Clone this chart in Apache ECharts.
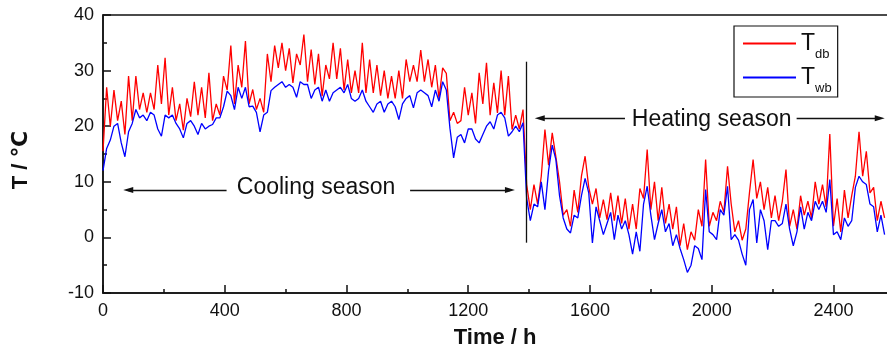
<!DOCTYPE html>
<html><head><meta charset="utf-8">
<script src="https://cdn.jsdelivr.net/npm/echarts@6/dist/echarts.min.js"></script>
<style>html,body{margin:0;padding:0;background:#fff}#c{width:887px;height:356px}</style>
</head><body><div id="c"></div>
<script>
const STEP_H = 12;
const COOLING_START_H = 0;
const HEATING_START_H = 1392;

// Dry-bulb temperature, cooling season (h 0 .. 1380)
const tdbCooling = [
  15.5, 27, 20, 26.5, 21, 24.5, 18.5, 29, 21, 29,
  23, 26, 22.5, 26, 23, 31, 24, 32.3, 22, 27,
  21, 24, 19.3, 25, 21.7, 28, 22, 27, 21.5, 29.6,
  21, 24, 22, 29, 26.5, 34.5, 24, 31, 27, 35.3,
  24, 26.6, 23, 25, 22.5, 33, 28, 34.5, 30.5, 35,
  30, 34, 27.8, 33, 31, 36.5, 28, 33.8, 27.5, 33,
  25.4, 31, 28.5, 35, 28.5, 34, 26.5, 32, 26, 30,
  26, 35, 26, 32, 26, 31, 25.5, 30, 25, 29,
  25, 30, 25, 32, 28, 31, 28, 33.7, 28, 32,
  27, 31, 25, 30.5, 29.5, 21, 22.5, 20.5, 21, 27,
  22, 26, 20.5, 29.6, 24, 31.4, 22, 27.8, 22.4, 30,
  22, 29, 19.4, 22, 19.5, 23
];
// Wet-bulb temperature, cooling season
const twbCooling = [
  12, 16, 17.5, 20, 20.5, 17, 14.5, 19, 20.5, 23,
  21.5, 22, 21, 22.5, 22, 19.5, 18.2, 22, 21.5, 22,
  20.5, 19.5, 17.9, 20.5, 21, 20, 18.5, 20.5, 19.5, 20,
  20.3, 21.5, 21.5, 23.5, 26.3, 25.5, 23, 27, 25, 27,
  23.5, 23.6, 22.5, 19, 22, 22.5, 26.4, 27, 27.5, 28,
  27, 27.5, 27, 25.2, 28, 27.5, 27.5, 25, 26.5, 27,
  24.5, 26.5, 24.5, 26, 26.5, 27, 26, 27.5, 25, 24.5,
  25, 26.5, 24.5, 23.5, 22.5, 24, 24.5, 22.5, 24, 24.5,
  23.5, 21.2, 24, 25, 25.5, 23.3, 26, 26.5, 26, 25.5,
  23.5, 26.5, 24.5, 28, 26.5, 19.6, 14.3, 18, 18.5, 17,
  19.5, 19.5, 17.7, 17, 18.5, 20, 20.8, 19.5, 22, 22.5,
  21.5, 18.2, 19, 20, 19, 20.6
];
// Dry-bulb temperature, heating season (h 1392 .. 2568)
const tdbHeating = [
  9.5, 5, 9.5, 6, 11, 19.4, 13, 18.8, 14.5, 10,
  4, 5, 2, 8.5, 4.5, 11, 14.6, 9, 6, 8.8,
  3.5, 6.8, 3.2, 8, 3, 7.5, 2.5, 7, 1.5, 6,
  1.5, 8.8, 7, 15.8, 5, 10, 3, 9, 2.5, 6,
  1.5, 5.5, -1.5, 2.5, -2.2, 1, -0.5, 5, 2, 14,
  2, 4.5, 3, 6.5, 4.5, 12.8, 6, 1, 3, -0.5,
  1.5, 8, 14, 7, 10, 5, 9, 3.5, 7.5, 3,
  6.5, 12.2, 2, 5, 1.5, 7.5, 4, 6.5, 3.5, 10,
  6, 9.5, 5.5, 18.6, 2, 7, 1, 8.5, 3.5, 7.5,
  11, 19, 11, 15.5, 8, 9, 3, 6.5, 3.5
];
// Wet-bulb temperature, heating season
const twbHeating = [
  7, 3, 6, 5.5, 10, 5, 12, 16.6, 14, 7.5,
  3.5, 1.5, 0.8, 4, 3.5, 7.5, 10.6, 8, -1, 5.5,
  3, 0.5, 2.5, 4.5, -0.4, 4, 1.5, 3, 0.5, -3,
  1, -2.5, 6, 9.2, 4, -0.4, 2.5, 5, 1, 2.5,
  -1.5, 0.5, -2, -4, -6.3, -5, -1.5, -2, -4, 8.6,
  1, 0.5, -0.4, 5, 4, 9.2, -0.4, 0.5, -0.5, -3,
  -5, 5, 6.8, -1, 5, 3, -2.2, 3, 3, 2,
  2.5, 6, 1.5, -1.5, 1, 5.5, 1.5, 4.5, 3, 6.5,
  5, 6.5, 4.5, 10.4, 0.5, 1, -0.4, 3.5, 2, 3,
  9, 11, 10, 9.5, 6, 5.5, 1, 4, 0.5
];

const seriesNames = ['Tdb', 'Twb'];
const seriesColors = ['#ff0000', '#0000ff'];
const xRange = [0, 2800];      // axis runs past the cropped right edge
const yRange = [-10, 40];
const xInterval = 400;
const yInterval = 10;

// annotation positions in data units [h, T]
const coolingText = ['Cooling season', 700, 8.94];
const heatingText = ['Heating season', 2000, 21.26];
const coolingArrowL = [[406, 8.53], [83, 8.53]];
const coolingArrowR = [[1009, 8.53], [1337, 8.53]];
const heatingArrowL = [[1715, 21.42], [1435, 21.42]];
const heatingArrowR = [[2279, 21.42], [2552, 21.42]];
const seasonDivider = [[1392, 31.6], [1392, -0.95]];

function toPoints(startH, values) {
  return values.map((v, i) => [startH + i * STEP_H, v]);
}
const tdbData = toPoints(COOLING_START_H, tdbCooling).concat(toPoints(HEATING_START_H, tdbHeating));
const twbData = toPoints(COOLING_START_H, twbCooling).concat(toPoints(HEATING_START_H, twbHeating));

const FONT = "'Liberation Sans', Arial, 'DejaVu Sans', sans-serif";
const INK = '#111';
const axisLineStyle = { color: INK, width: 1.5 };

function arrow(seg) {
  return [{ coord: seg[0], symbol: 'none' }, { coord: seg[1], symbol: 'triangle' }];
}

const chart = echarts.init(document.getElementById('c'), null, { renderer: 'canvas' });
chart.setOption({
  animation: false,
  backgroundColor: '#fff',
  grid: {
    left: 103, top: 15, width: 852.2, height: 278,
    outerBoundsMode: 'none', containLabel: false,
    show: true, borderColor: INK, borderWidth: 1.5, backgroundColor: 'transparent'
  },
  legend: {
    data: seriesNames,
    orient: 'vertical',
    left: 734, top: 26,
    itemWidth: 53, itemHeight: 2, icon: 'rect',
    itemGap: -1,
    padding: [0, 6, 2, 9],
    borderColor: INK, borderWidth: 1.2,
    selectedMode: false,
    formatter: function (name) { return '{t|T}{s|' + name.slice(1) + '}'; },
    textStyle: {
      rich: {
        t: { fontSize: 23, fontFamily: FONT, color: INK, lineHeight: 26 },
        s: { fontSize: 13, fontFamily: FONT, color: INK, lineHeight: 14, padding: [22, 0, 0, 0] }
      }
    }
  },
  xAxis: {
    type: 'value', min: xRange[0], max: xRange[1], interval: xInterval,
    name: 'Time / h', nameLocation: 'middle', nameGap: 34,
    nameTextStyle: { fontSize: 22, fontWeight: 'bold', color: INK, fontFamily: FONT, padding: [0, 68, 0, 0] },
    axisLine: { show: true, onZero: false, lineStyle: axisLineStyle },
    axisTick: { show: true, inside: true, length: 8, lineStyle: axisLineStyle },
    minorTick: { show: true, splitNumber: 2, length: 4, lineStyle: axisLineStyle },
    axisLabel: { color: INK, fontSize: 18, fontFamily: FONT, margin: 9, formatter: function (v) { return String(v); } },
    splitLine: { show: false }, minorSplitLine: { show: false }
  },
  yAxis: {
    type: 'value', min: yRange[0], max: yRange[1], interval: yInterval,
    name: 'T / ℃', nameLocation: 'middle', nameGap: 71,
    nameTextStyle: { fontSize: 22, fontWeight: 'bold', color: INK, fontFamily: FONT, padding: [0, 12, 0, 0] },
    axisLine: { show: true, onZero: false, lineStyle: axisLineStyle },
    axisTick: { show: true, inside: true, length: 8, lineStyle: axisLineStyle },
    minorTick: { show: true, splitNumber: 2, length: 4, lineStyle: axisLineStyle },
    axisLabel: { color: INK, fontSize: 18, fontFamily: FONT, margin: 9, formatter: function (v) { return String(v); } },
    splitLine: { show: false }, minorSplitLine: { show: false }
  },
  series: [
    {
      name: seriesNames[0], type: 'line', data: tdbData, showSymbol: false, symbol: 'none',
      lineStyle: { color: seriesColors[0], width: 1.3 }, itemStyle: { color: seriesColors[0] }, z: 2
    },
    {
      name: seriesNames[1], type: 'line', data: twbData, showSymbol: false, symbol: 'none',
      lineStyle: { color: seriesColors[1], width: 1.3 }, itemStyle: { color: seriesColors[1] }, z: 3
    },
    {
      name: 'annotations', type: 'line', data: [], silent: true, z: 4,
      markLine: {
        silent: true, animation: false,
        symbolSize: [6, 10],
        lineStyle: { color: INK, width: 1.3, type: 'solid' },
        label: { show: false },
        emphasis: { disabled: true },
        data: [
          arrow(coolingArrowL), arrow(coolingArrowR),
          arrow(heatingArrowL), arrow(heatingArrowR),
          [{ coord: seasonDivider[0], symbol: 'none' }, { coord: seasonDivider[1], symbol: 'none' }]
        ]
      },
      markPoint: {
        silent: true, animation: false,
        symbol: 'circle', symbolSize: 0,
        itemStyle: { color: 'transparent' },
        label: { show: true, position: 'inside', formatter: '{b}', color: INK, fontSize: 23, fontFamily: FONT },
        data: [
          { name: coolingText[0], coord: [coolingText[1], coolingText[2]] },
          { name: heatingText[0], coord: [heatingText[1], heatingText[2]] }
        ]
      }
    }
  ]
});
</script>
</body></html>
